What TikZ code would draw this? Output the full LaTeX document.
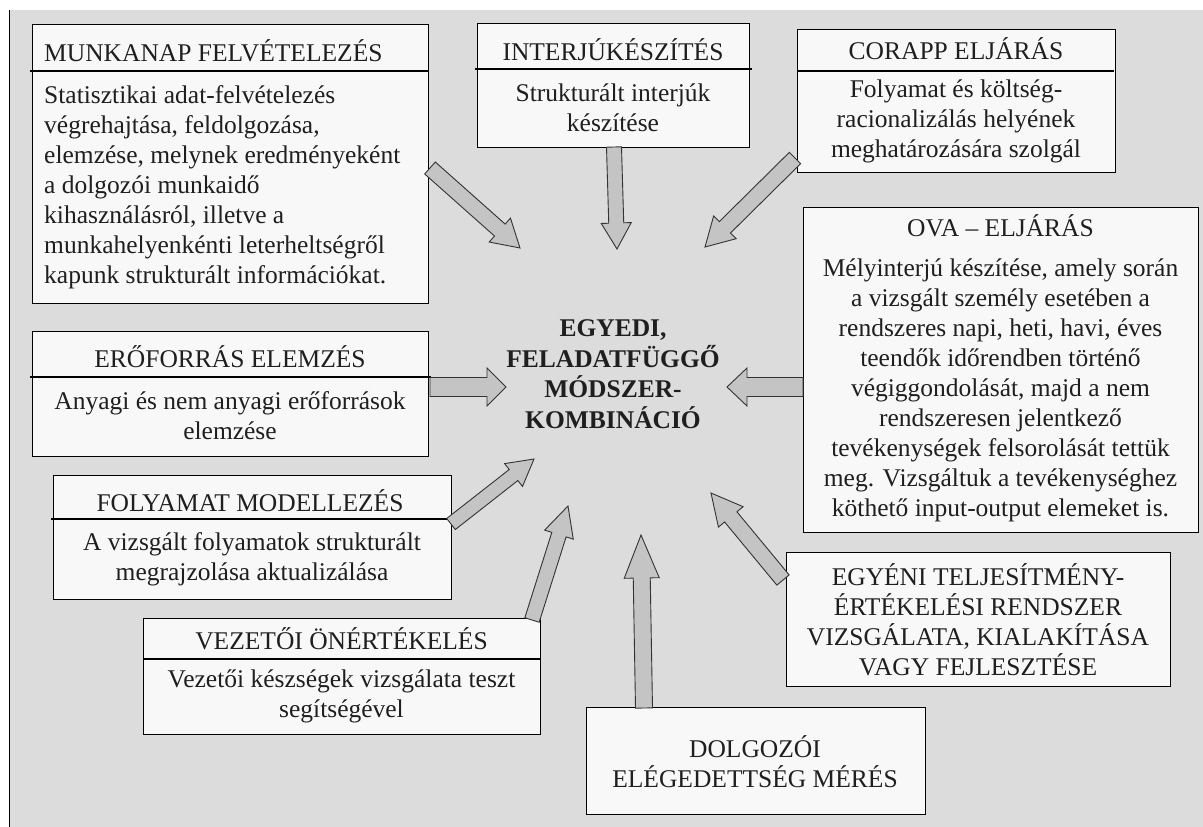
\documentclass[tikz,border=0pt]{standalone}
\usepackage{fontspec}
\setmainfont{Liberation Serif}
\usetikzlibrary{calc}

\definecolor{panelgrey}{HTML}{DCDCDC}
\definecolor{boxfill}{HTML}{F8F8F8}
\definecolor{arrowfill}{HTML}{C4C4C4}

\tikzset{
  panel/.style={draw=black, line width=1.3pt, fill=boxfill, inner sep=0pt, anchor=north west},
  divider/.style={draw=black, line width=1.3pt},
  txt/.style={inner sep=0pt, font=\fontsize{25.5}{30}\selectfont, text=black!88},
  hdr/.style={txt, anchor=base},
  blockarrow/.style={draw=black!80, line width=0.9pt, fill=arrowfill, line join=miter},
}

% block arrow: tail, tip, shaft width, head width, head length
\newcommand\drawblockarrow[5]{%
  \path ($(#2)!#5!(#1)$) coordinate (neck);
  \draw[blockarrow]
    ($(#1)!#3/2!90:(#2)$) -- ($(neck)!#3/2!90:(#2)$) -- ($(neck)!#4/2!90:(#2)$)
    -- (#2)
    -- ($(neck)!#4/2!-90:(#2)$) -- ($(neck)!#3/2!-90:(#2)$) -- ($(#1)!#3/2!-90:(#2)$) -- cycle;
}

\begin{document}
\begin{tikzpicture}[x=1pt, y=-1pt]
\useasboundingbox (0,0) rectangle (1203,827);
\fill[white] (0,0) rectangle (1203,827);
\fill[panelgrey] (10,10) rectangle (1203,827);
\draw[line width=1.5pt] (9.5,10) -- (9.5,827);

% ---------- boxes ----------
\node[panel, minimum width=396pt, minimum height=279pt] (munka) at (32,24) {};
\draw[divider] ([xshift=-2pt,yshift=-47pt]munka.north west) -- ([yshift=-47pt]munka.north east);
\node[hdr, anchor=base west] (munkaH) at (44,61) {MUNKANAP FELVÉTELEZÉS};
\node[txt, align=left, anchor=west] (munkaB) at (44,187) {Statisztikai adat-felvételezés\\
végrehajtása, feldolgozása,\\ elemzése, melynek eredményeként\\ a dolgozói munkaidő\\
kihasználásról, illetve a\\ munkahelyenkénti leterheltségről\\ kapunk strukturált információkat.};

\node[panel, minimum width=272pt, minimum height=124pt] (interju) at (477,23) {};
\draw[divider] ([xshift=-2pt,yshift=-46pt]interju.north west) -- ([xshift=2pt,yshift=-46pt]interju.north east);
\node[hdr] (interjuH) at (613,60) {INTERJÚKÉSZÍTÉS};
\node[txt, align=center] (interjuB) at (613,108) {Strukturált interjúk\\ készítése};

\node[panel, minimum width=318pt, minimum height=143pt] (corapp) at (797,29) {};
\draw[divider] ([yshift=-42pt]corapp.north west) -- ([xshift=-2pt,yshift=-42pt]corapp.north east);
\node[hdr] (corappH) at (956,59) {CORAPP ELJÁRÁS};
\node[txt, align=center] (corappB) at (956,121.5) {Folyamat és költség-\\ racionalizálás helyének\\ meghatározására szolgál};

\node[panel, minimum width=395pt, minimum height=325pt] (ova) at (803,207) {};
\node[hdr] (ovaH) at (1000.5,236) {OVA – ELJÁRÁS};
\node[txt, align=center] (ovaB) at (1000.5,390) {Mélyinterjú készítése, amely során\\
a vizsgált személy esetében a\\ rendszeres napi, heti, havi, éves\\ teendők időrendben történő\\
végiggondolását, majd a nem\\ rendszeresen jelentkező\\ tevékenységek felsorolását tettük\\
meg. Vizsgáltuk a tevékenységhez\\ köthető input-output elemeket is.};

\node[panel, minimum width=396pt, minimum height=125pt] (ero) at (32,331) {};
\draw[divider] ([xshift=-2pt,yshift=-46pt]ero.north west) -- ([xshift=2pt,yshift=-46pt]ero.north east);
\node[hdr] (eroH) at (230,367) {ERŐFORRÁS ELEMZÉS};
\node[txt, align=center] (eroB) at (230,416) {Anyagi és nem anyagi erőforrások\\ elemzése};

\node[panel, minimum width=398pt, minimum height=124pt] (folyam) at (53,475) {};
\draw[divider] ([xshift=-2pt,yshift=-44pt]folyam.north west) -- ([yshift=-44pt]folyam.north east);
\node[hdr] (folyamH) at (250,511) {FOLYAMAT MODELLEZÉS};
\node[txt, align=center] (folyamB) at (252,559) {A vizsgált folyamatok strukturált\\ megrajzolása aktualizálása};

\node[panel, minimum width=397pt, minimum height=116pt] (vezet) at (143,618) {};
\draw[divider] ([yshift=-41pt]vezet.north west) -- ([yshift=-41pt]vezet.north east);
\node[hdr] (vezetH) at (341.5,649) {VEZETŐI ÖNÉRTÉKELÉS};
\node[txt, align=center] (vezetB) at (341.5,696.5) {Vezetői készségek vizsgálata teszt\\ segítségével};

\node[panel, minimum width=384pt, minimum height=134pt] (egyeni) at (786,552) {};
\node[txt, align=center] (egyeniB) at (978,620) {EGYÉNI TELJESÍTMÉNY-\\ ÉRTÉKELÉSI RENDSZER\\ VIZSGÁLATA, KIALAKÍTÁSA\\ VAGY FEJLESZTÉSE};

\node[panel, minimum width=339pt, minimum height=107pt] (dolgoz) at (586,707) {};
\node[txt, align=center] (dolgozB) at (755,762) {DOLGOZÓI\\ ELÉGEDETTSÉG MÉRÉS};

% ---------- centre ----------
\node[txt, align=center, font=\fontsize{25.5}{30.5}\selectfont\bfseries] (core) at (613,374)
  {EGYEDI,\\ FELADATFÜGGŐ\\ MÓDSZER-\\ KOMBINÁCIÓ};

% ---------- arrows ----------
\coordinate (aT) at (430,168);  \coordinate (aH) at (520,248);
\coordinate (bT) at (614,147);  \coordinate (bH) at (617,249);
\coordinate (cT) at (795,158);  \coordinate (cH) at (705,247);
\coordinate (dT) at (430,387);  \coordinate (dH) at (506,387);
\coordinate (eT) at (803,387);  \coordinate (eH) at (727,387);
\coordinate (fT) at (451,524);  \coordinate (fH) at (534,459);
\coordinate (gT) at (532,620);  \coordinate (gH) at (568,506);
\coordinate (hT) at (644,708);  \coordinate (hH) at (641,535);
\coordinate (iT) at (783,580);  \coordinate (iH) at (711,493);

\drawblockarrow{aT}{aH}{16pt}{32pt}{27pt}
\drawblockarrow{bT}{bH}{15pt}{30pt}{26pt}
\drawblockarrow{cT}{cH}{16pt}{32pt}{28pt}
\drawblockarrow{dT}{dH}{19pt}{38pt}{19pt}
\drawblockarrow{eT}{eH}{19pt}{38pt}{20pt}
\drawblockarrow{fT}{fH}{14pt}{29pt}{26pt}
\drawblockarrow{gT}{gH}{15pt}{30pt}{30pt}
\drawblockarrow{hT}{hH}{17pt}{35pt}{43pt}
\drawblockarrow{iT}{iH}{16pt}{32pt}{31pt}
\end{tikzpicture}
\end{document}
